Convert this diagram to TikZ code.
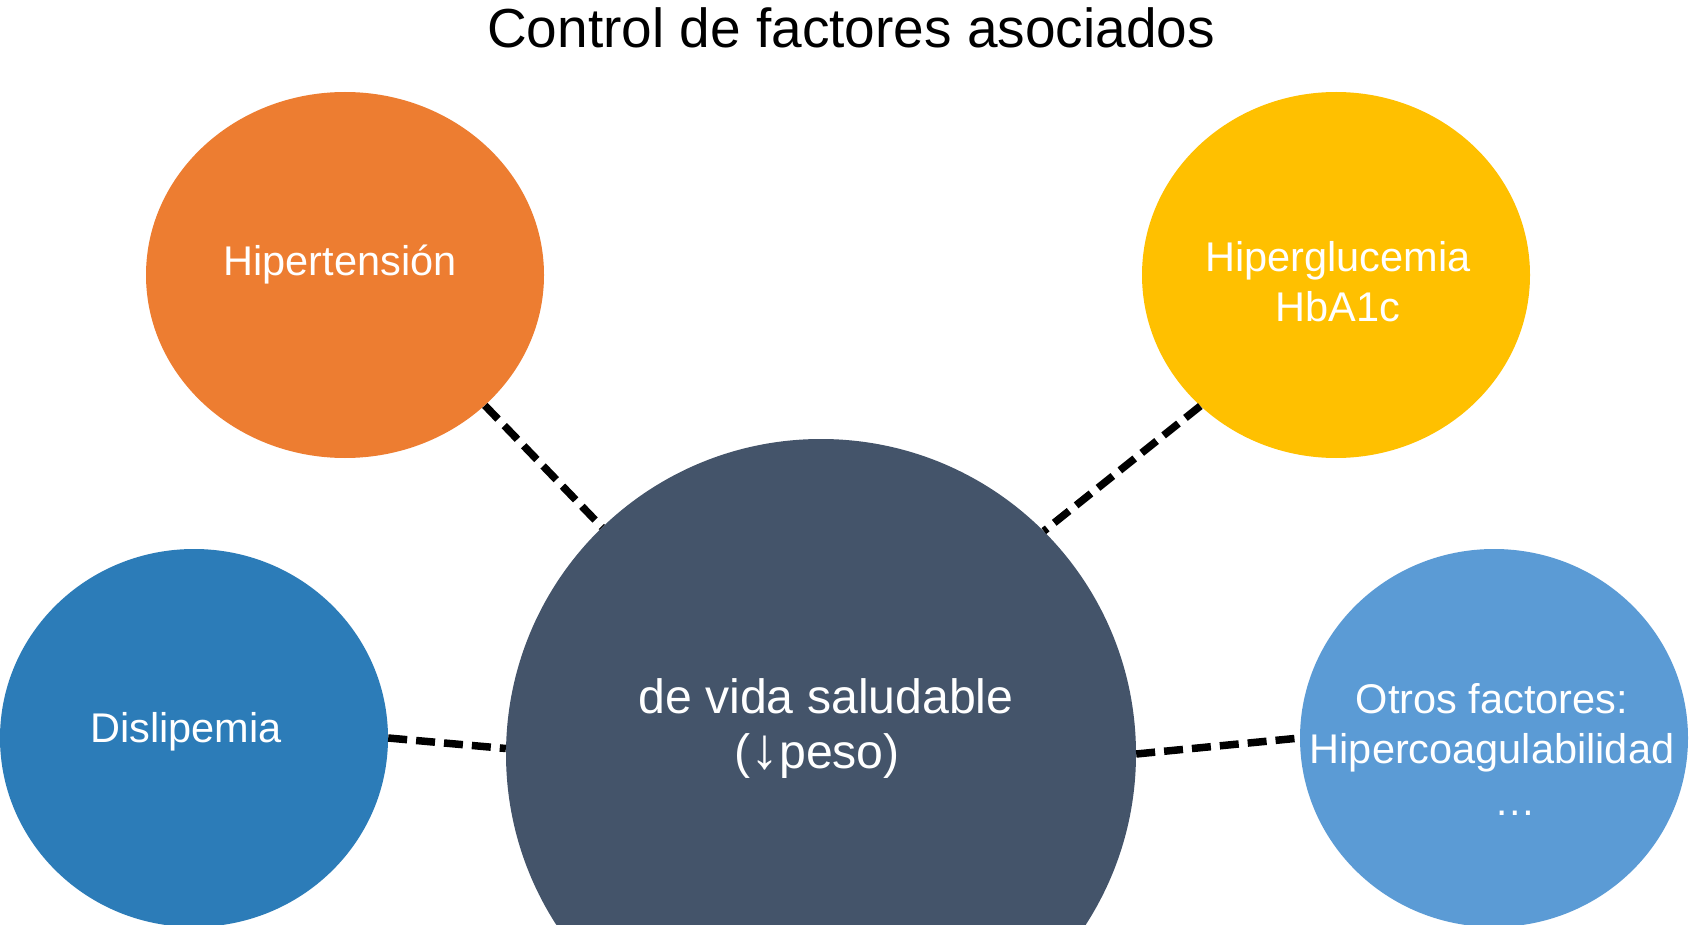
\documentclass[tikz,border=0pt]{standalone}
\usepackage{fontspec}
\setmainfont{Liberation Sans}
\usetikzlibrary{shapes.geometric}
\definecolor{corange}{HTML}{ED7D31}
\definecolor{cyellow}{HTML}{FFC000}
\definecolor{cblue}{HTML}{2C7CB8}
\definecolor{clblue}{HTML}{5B9BD5}
\definecolor{cdark}{HTML}{44546A}
\begin{document}
\begin{tikzpicture}[x=1pt,y=-1pt,
  blob/.style={ellipse, inner sep=0pt, draw=none},
  lbl/.style={anchor=base, inner sep=0pt, text=white, font=\fontsize{41.5}{50}\selectfont},
  biglbl/.style={anchor=base, inner sep=0pt, text=white, font=\fontsize{48.2}{55}\selectfont},
  link/.style={draw=black, line width=7.5pt, dash pattern=on 19pt off 9pt}]
\useasboundingbox (0,0) rectangle (1689,925);
\clip (0,0) rectangle (1689,925);
\fill[white] (0,0) rectangle (1689,925);
% circles
\node[blob, fill=corange, minimum width=398pt, minimum height=366pt] (hip) at (345,275) {};
\node[blob, fill=cyellow, minimum width=388pt, minimum height=366pt] (hg) at (1336,275) {};
\node[blob, fill=cblue, minimum width=388pt, minimum height=378pt] (dis) at (194,738) {};
\node[blob, fill=clblue, minimum width=388pt, minimum height=378pt] (oth) at (1494,738) {};
\node[circle, inner sep=0pt, fill=cdark, minimum size=630pt] (cen) at (821,754) {};
% connectors
\draw[link] (hip.-43) -- (cen.134.6);
\draw[link] (hg.224) -- (cen.45.8);
\draw[link] (dis.0) -- (cen.179.45);
\draw[link] (cen.0.5) -- (oth.180);
% texts
\node[anchor=base, inner sep=0pt, font=\fontsize{55}{66}\selectfont] (title) at (851,48) {Control de factores asociados};
\node[lbl] (hipA) at (340,276) {Hipertensión};
\node[lbl] (hgA) at (1338,272) {Hiperglucemia};
\node[lbl] (hgB) at (1338,322) {HbA1c};
\node[lbl] (disA) at (186,742) {Dislipemia};
\node[biglbl] (cenA) at (826,713) {de vida saludable};
\node[biglbl] (cenB) at (817,768) {(\scalebox{1.2}{↓}peso)};
\node[lbl] (othA) at (1492,713) {Otros factores:};
\node[lbl] (othB) at (1492,763) {Hipercoagulabilidad};
\node[lbl] (othC) at (1515,815) {…};
\end{tikzpicture}
\end{document}
